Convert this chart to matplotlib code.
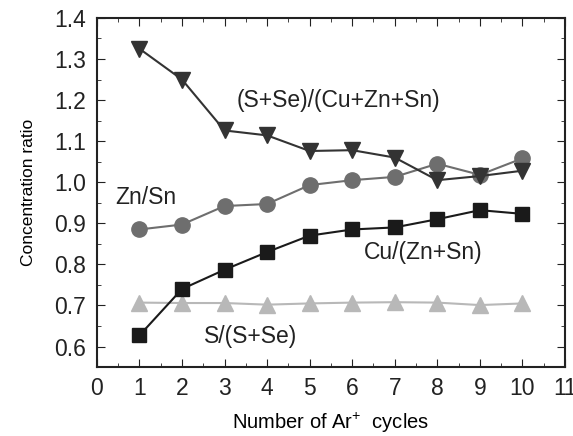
import matplotlib
matplotlib.use('Agg')
import matplotlib.pyplot as plt
from matplotlib.ticker import MultipleLocator

plt.rcParams['font.family'] = ['Liberation Sans', 'DejaVu Sans']
plt.rcParams['mathtext.fontset'] = 'custom'
plt.rcParams['mathtext.rm'] = 'Liberation Sans'

cycles = [1, 2, 3, 4, 5, 6, 7, 8, 9, 10]
sse_cuznsn = [1.325, 1.250, 1.126, 1.114, 1.076, 1.078, 1.060, 1.005, 1.015, 1.028]
zn_sn = [0.885, 0.897, 0.942, 0.947, 0.993, 1.005, 1.013, 1.045, 1.018, 1.058]
cu_znsn = [0.627, 0.740, 0.787, 0.830, 0.870, 0.885, 0.890, 0.910, 0.932, 0.923]
s_sse = [0.707, 0.706, 0.706, 0.702, 0.705, 0.707, 0.708, 0.707, 0.701, 0.705]

fig = plt.figure(figsize=(5.73, 4.36), dpi=100)
ax = fig.add_axes([0.169, 0.158, 0.817, 0.801])

ax.plot(cycles, s_sse, marker='^', color='#b8b8b8', ms=11, lw=1.5)
ax.plot(cycles, zn_sn, marker='o', color='#6e6e6e', ms=11, lw=1.5)
ax.plot(cycles, sse_cuznsn, marker='v', color='#333333', ms=12, lw=1.5)
ax.plot(cycles, cu_znsn, marker='s', color='#1a1a1a', ms=10, lw=1.5)

# curve labels
ax.text(5.67, 1.2, '(S+Se)/(Cu+Zn+Sn)', fontsize=16.5, ha='center', va='center', color='#222222')
ax.text(1.16, 0.964, 'Zn/Sn', fontsize=16.5, ha='center', va='center', color='#222222')
ax.text(7.66, 0.828, 'Cu/(Zn+Sn)', fontsize=16.5, ha='center', va='center', color='#222222')
ax.text(3.61, 0.624, 'S/(S+Se)', fontsize=16.5, ha='center', va='center', color='#222222')

ax.set_xlim(0, 11)
ax.set_ylim(0.55, 1.4)
ax.xaxis.set_major_locator(MultipleLocator(1))
ax.xaxis.set_minor_locator(MultipleLocator(0.5))
ax.yaxis.set_major_locator(MultipleLocator(0.1))
ax.yaxis.set_minor_locator(MultipleLocator(0.05))
ax.tick_params(which='both', direction='in', top=True, right=True, labelsize=16.5, colors='#222222')
ax.tick_params(which='major', length=6)
ax.tick_params(which='minor', length=3)
ax.tick_params(axis='y', which='both', pad=8)
ax.tick_params(axis='x', which='both', pad=7)
for s in ax.spines.values():
    s.set_linewidth(1.5)
    s.set_color('#222222')

ax.set_xlabel('Number of Ar$^{+}$  cycles', fontsize=14.5, labelpad=8)
ax.set_ylabel('Concentration ratio', fontsize=12.5, labelpad=13)

fig.savefig('out.png', dpi=100)
